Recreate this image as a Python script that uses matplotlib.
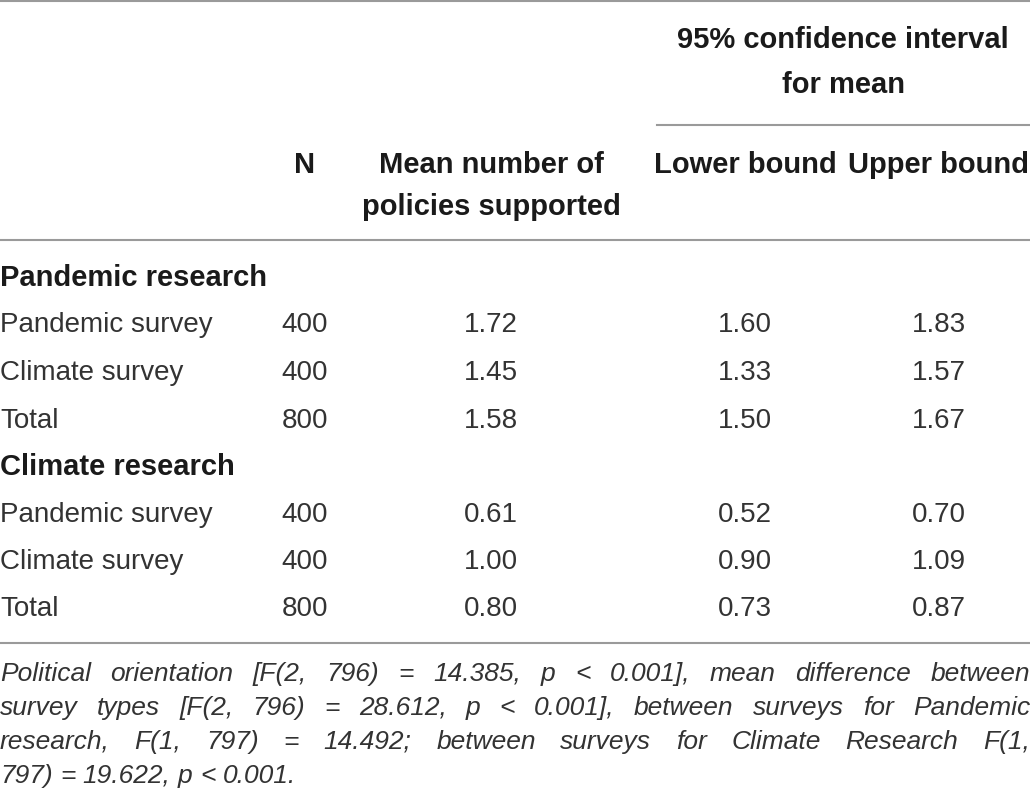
import matplotlib
matplotlib.use("Agg")
from matplotlib import pyplot as plt

plt.rcParams['font.family'] = ['Liberation Sans', 'DejaVu Sans']

# table content
group_titles = ["Pandemic research", "Climate research"]
row_labels = ["Pandemic survey", "Climate survey", "Total"]
n_vals = [[400, 400, 800], [400, 400, 800]]
means = [["1.72", "1.45", "1.58"], ["0.61", "1.00", "0.80"]]
lower = [["1.60", "1.33", "1.50"], ["0.52", "0.90", "0.73"]]
upper = [["1.83", "1.57", "1.67"], ["0.70", "1.09", "0.87"]]
footnote = [
    "Political orientation [F(2, 796) = 14.385, p < 0.001], mean difference between",
    "survey types [F(2, 796) = 28.612, p < 0.001], between surveys for Pandemic",
    "research, F(1, 797) = 14.492; between surveys for Climate Research F(1,",
    "797) = 19.622, p < 0.001.",
]

W, H = 1030, 798
fig = plt.figure(figsize=(W / 100, H / 100), dpi=100)
ax = fig.add_axes([0, 0, 1, 1])
ax.set_xlim(0, W)
ax.set_ylim(H, 0)
ax.axis('off')

fs = 20
fsb = 21
hcol = '#1a1a1a'
bcol = '#333333'
lcol = '#9a9a9a'

col_x = [305, 491, 745, 939]
dy = 2

# rules
ax.plot([0, W], [1, 1], color=lcol, lw=1.5)
ax.plot([657, W], [125, 125], color=lcol, lw=1.5)
ax.plot([0, W], [240, 240], color=lcol, lw=1.5)
ax.plot([0, W], [643, 643], color=lcol, lw=1.5)

# header
hk = dict(fontsize=fsb, fontweight='bold', color=hcol, ha='center', va='center')
ax.text(843, 38 + dy, "95% confidence interval", **hk)
ax.text(843, 83 + dy, "for mean", **hk)
ax.text(col_x[0], 163 + dy, "N", **hk)
ax.text(col_x[1], 163 + dy, "Mean number of", **hk)
ax.text(col_x[1], 205 + dy, "policies supported", **hk)
ax.text(col_x[2], 163 + dy, "Lower bound", **hk)
ax.text(col_x[3], 163 + dy, "Upper bound", **hk)

# body
group_y = [276 + dy, 465 + dy]
row_step = 47.5
for g in range(2):
    ax.text(0, group_y[g], group_titles[g], fontsize=fsb, fontweight='bold',
            color=hcol, ha='left', va='center')
    for r in range(3):
        y = group_y[g] + row_step * (r + 1)
        ax.text(0, y, row_labels[r], fontsize=fs, color=bcol, ha='left', va='center')
        vals = [str(n_vals[g][r]), means[g][r], lower[g][r], upper[g][r]]
        for cx, v in zip(col_x, vals):
            ax.text(cx, y, v, fontsize=fs, color=bcol, ha='center', va='center')

# footnote, justified
renderer = fig.canvas.get_renderer()
foot_y = [674, 708, 742, 776]
ffs = 19
for i, line in enumerate(footnote):
    words = line.split(' ')
    texts = [ax.text(0, foot_y[i], w, fontsize=ffs, style='italic', color=bcol,
                     ha='left', va='center') for w in words]
    widths = [t.get_window_extent(renderer).width for t in texts]
    if i < len(footnote) - 1:
        gap = (W - sum(widths)) / (len(words) - 1)
    else:
        sp = ax.text(0, 0, 'a a', fontsize=ffs, style='italic')
        sp2 = ax.text(0, 0, 'aa', fontsize=ffs, style='italic')
        gap = sp.get_window_extent(renderer).width - sp2.get_window_extent(renderer).width
        sp.remove()
        sp2.remove()
    x = 0
    for t, w in zip(texts, widths):
        t.set_x(x)
        x += w + gap

fig.savefig('out.png', dpi=100)
